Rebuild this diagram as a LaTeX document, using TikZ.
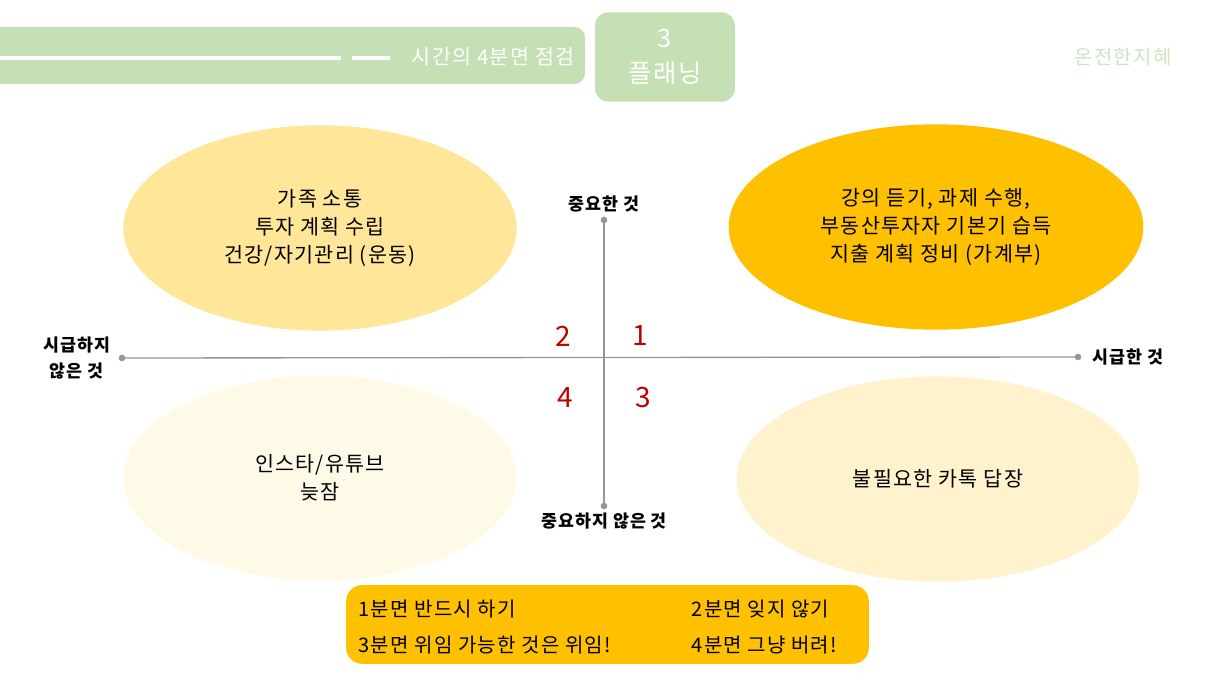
\documentclass[tikz,border=0pt]{standalone}
\usepackage{fontspec}
\setmainfont{Noto Sans CJK KR}[LetterSpace=6]
\usetikzlibrary{positioning,shapes.geometric}
\definecolor{leaf}{RGB}{197,224,180}
\definecolor{paleleaf}{RGB}{206,230,192}
\definecolor{gold}{RGB}{255,192,0}
\definecolor{sand}{RGB}{255,230,153}
\definecolor{cream}{RGB}{255,242,204}
\definecolor{ivory}{RGB}{255,249,232}
\definecolor{axisgray}{RGB}{150,150,150}
\definecolor{numred}{RGB}{192,0,0}
\begin{document}
\begin{tikzpicture}[x=0.75pt,y=-0.75pt,
    quad node/.style={ellipse,minimum width=295pt,minimum height=154pt,
      align=center,font=\fontsize{15.5}{21}\selectfont},
    axis dot/.style={circle,fill=axisgray,inner sep=0pt,minimum size=5pt},
    axis label/.style={font=\fontsize{13}{19.5}\selectfont\bfseries,align=center,inner sep=1pt},
    num label/.style={text=numred,font=\fontsize{21}{21}\selectfont},
    key label/.style={anchor=west,font=\fontsize{15}{18}\selectfont}]

    \useasboundingbox (0,0) rectangle (1216,684);

    \fill[leaf,rounded corners=8pt] (-20,27) rectangle (585,84);
    \draw[white,line width=3pt] (-20,58) -- (341,58);
    \draw[white,line width=3pt] (352,58) -- (390,58);
    \node[text=white,anchor=east,font=\fontsize{15.5}{18}\selectfont] (title) at (579,57) {시간의 4분면 점검};
    \node[fill=leaf,rounded corners=10pt,minimum width=105pt,minimum height=67pt,
      text=white,align=center,font=\fontsize{19}{26}\selectfont] (plan) at (665,57) {3\\플래닝};
    \node[text=paleleaf,font=\fontsize{15}{18}\selectfont] (brand) at (1123,57) {온전한지혜};

    \node[quad node,fill=sand] (2) at (320,228) {가족 소통\\투자 계획 수립\\건강/자기관리 (운동)};
    \node[quad node,fill=gold,minimum width=311pt] (1) at (936,227) {강의 듣기, 과제 수행,\\부동산투자자 기본기 습득\\지출 계획 정비 (가계부)};
    \node[quad node,fill=ivory] (4) at (320,478) {인스타/유튜브\\늦잠};
    \node[quad node,fill=cream,minimum width=302pt] (3) at (938,479) {불필요한 카톡 답장};

    \node[axis dot] (left) at (122,358) {};
    \node[axis dot] (right) at (1078,357) {};
    \node[axis dot] (top) at (604,220) {};
    \node[axis dot] (bottom) at (604,506) {};
    \draw[axisgray,line width=1pt] (left.center) -- (right.center);
    \draw[axisgray,line width=1pt] (top.center) -- (bottom.center);

    \node[axis label,above=2pt of top] (important) {중요한 것};
    \node[axis label,below=1pt of bottom] (minor) {중요하지 않은 것};
    \node[axis label,right=7pt of right] (urgent) {시급한 것};
    \node[axis label,left=5pt of left] (later) {시급하지\\않은 것};

    \node[num label] (n1) at (640,336) {1};
    \node[num label] (n2) at (563,336) {2};
    \node[num label] (n3) at (643,398) {3};
    \node[num label] (n4) at (565,398) {4};

    \node[fill=gold,rounded corners=12pt,minimum width=392pt,minimum height=59pt] (legend) at (607.5,624.5) {};
    \node[key label] (k1) at (354,609) {1분면 반드시 하기};
    \node[key label] (k2) at (687,609) {2분면 잊지 않기};
    \node[key label] (k3) at (354,645) {3분면 위임 가능한 것은 위임!};
    \node[key label] (k4) at (687,645) {4분면 그냥 버려!};
\end{tikzpicture}
\end{document}
